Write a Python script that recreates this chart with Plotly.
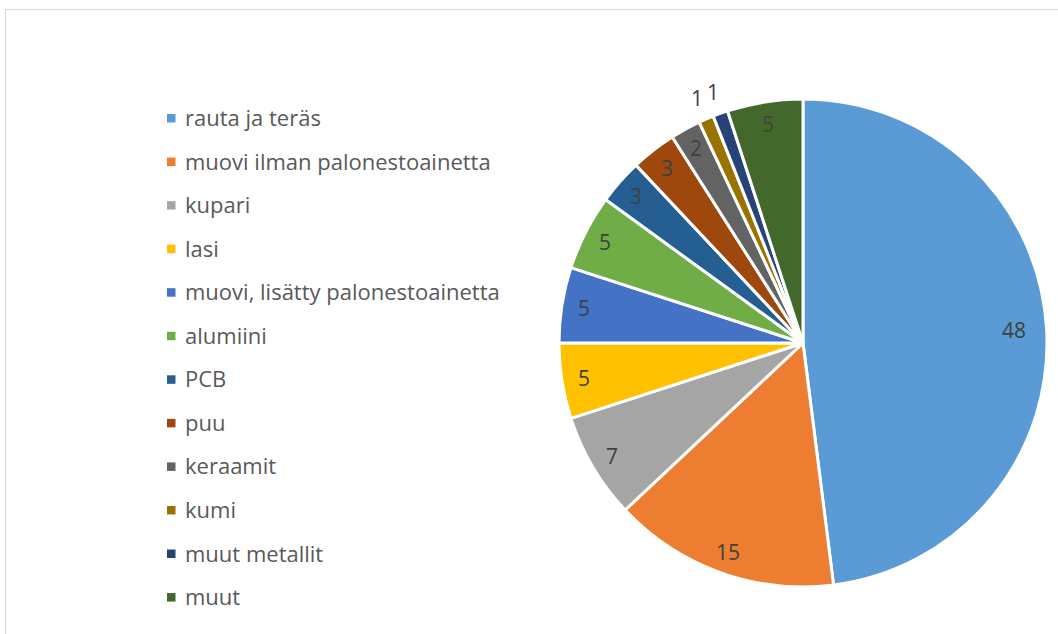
import math
import plotly.graph_objects as go

labels = ["rauta ja teräs", "muovi ilman palonestoainetta", "kupari", "lasi",
          "muovi, lisätty palonestoainetta", "alumiini", "PCB", "puu",
          "keraamit", "kumi", "muut metallit", "muut"]
values = [48, 15, 7, 5, 5, 5, 3, 3, 2, 1, 1, 5]
colors = ["#5B9BD5", "#ED7D31", "#A5A5A5", "#FFC000", "#4472C4", "#70AD47",
          "#255E91", "#9E480E", "#636363", "#997300", "#264478", "#43682B"]

W, H = 1058, 634
cx, cy, r = 803, 343, 244
FONT = "Open Sans"

fig = go.Figure(go.Pie(
    labels=labels, values=values, sort=False, direction="clockwise", rotation=0,
    marker=dict(colors=colors, line=dict(color="white", width=3)),
    textinfo="none", showlegend=False, hoverinfo="label+value",
    domain=dict(x=[(cx - r) / W, (cx + r) / W], y=[(H - cy - r) / H, (H - cy + r) / H]),
))

shapes = [dict(type="rect", xref="paper", yref="paper", x0=5.5 / W, x1=1.2,
               y0=-0.2, y1=1 - 9.5 / H, line=dict(color="#D9D9D9", width=1),
               fillcolor="rgba(0,0,0,0)", layer="below")]
annotations = []

# legend
y_first, step = 118, 43.55
for i, (lab, col) in enumerate(zip(labels, colors)):
    yc = y_first + i * step
    shapes.append(dict(type="rect", xref="paper", yref="paper",
                       x0=167 / W, x1=175.5 / W, y0=1 - (yc + 4.5) / H, y1=1 - (yc - 4) / H,
                       fillcolor=col, line=dict(width=0)))
    annotations.append(dict(text=lab, xref="paper", yref="paper", x=183 / W, y=1 - (yc - 1) / H,
                            xanchor="left", yanchor="middle", showarrow=False,
                            font=dict(family=FONT, size=22, color="#595959")))

# data labels
total = sum(values)
cum = 0
for v in values:
    mid = (cum + v / 2) / total * 2 * math.pi
    cum += v
    if v <= 1:
        rr = 267
    elif v >= 40:
        rr = 0.865 * r
    else:
        rr = 0.91 * r
    px = cx + rr * math.sin(mid)
    py = cy - rr * math.cos(mid)
    annotations.append(dict(text=str(v), xref="paper", yref="paper", x=px / W, y=1 - py / H,
                            xanchor="center", yanchor="middle", showarrow=False,
                            font=dict(family=FONT, size=21, color="#404040")))

fig.update_layout(width=W, height=H, margin=dict(l=0, r=0, t=0, b=0),
                  paper_bgcolor="white", plot_bgcolor="white",
                  shapes=shapes, annotations=annotations)
fig.write_html("out.html")
